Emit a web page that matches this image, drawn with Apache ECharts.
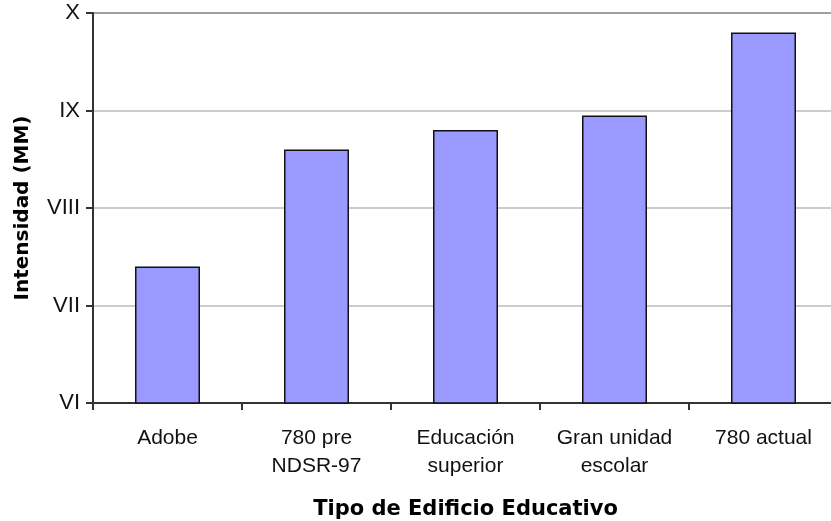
<!DOCTYPE html>
<html>
<head>
<meta charset="utf-8">
<script src="https://cdn.jsdelivr.net/npm/echarts@6/dist/echarts.min.js"></script>
<style>
  html, body { margin: 0; padding: 0; background: #fff; }
  #chart { width: 831px; height: 521px; }
</style>
</head>
<body>
<div id="chart"></div>
<script>
// Building types and their estimated Mercalli intensity
const categories = ['Adobe', '780 pre\nNDSR-97', 'Educación\nsuperior', 'Gran unidad\nescolar', '780 actual'];
const intensity = [7.4, 8.6, 8.8, 8.95, 9.8];
// Roman numeral tick labels for intensities 6..10
const tickValues = [6, 7, 8, 9, 10];
const tickLabels = ['VI', 'VII', 'VIII', 'IX', 'X'];

const chart = echarts.init(document.getElementById('chart'), null, { renderer: 'canvas' });

chart.setOption({
  animation: false,
  backgroundColor: '#ffffff',
  grid: { left: 93, top: 13, width: 745, height: 390, containLabel: false, outerBoundsMode: 'none' },
  xAxis: {
    type: 'category',
    data: categories,
    boundaryGap: true,
    name: 'Tipo de Edificio Educativo',
    nameLocation: 'middle',
    nameGap: 96,
    nameTextStyle: { fontFamily: 'DejaVu Sans, Verdana, sans-serif', fontWeight: 'bold', fontSize: 21, color: '#000' },
    axisLine: { lineStyle: { color: '#333', width: 2 } },
    axisTick: { show: true, length: 7, alignWithLabel: false, lineStyle: { color: '#333', width: 2 } },
    axisLabel: {
      interval: 0,
      margin: 21,
      fontFamily: 'Liberation Sans, Arial, sans-serif',
      fontSize: 21,
      lineHeight: 28,
      color: '#111'
    }
  },
  yAxis: {
    type: 'value',
    min: 6,
    max: 10,
    interval: 1,
    name: 'Intensidad (MM)',
    nameLocation: 'middle',
    nameGap: 60,
    nameRotate: 90,
    nameTextStyle: { fontFamily: 'DejaVu Sans, Verdana, sans-serif', fontWeight: 'bold', fontSize: 20, color: '#000' },
    axisLine: { show: true, lineStyle: { color: '#333', width: 2 } },
    axisTick: { show: true, length: 7, lineStyle: { color: '#333', width: 2 } },
    axisLabel: {
      margin: 13,
      fontFamily: 'Liberation Sans, Arial, sans-serif',
      fontSize: 22,
      color: '#111',
      formatter: function (v) {
        const i = tickValues.indexOf(Math.round(v));
        return i >= 0 ? tickLabels[i] : '';
      }
    },
    splitLine: {
      show: true,
      lineStyle: { color: ['#cccccc', '#cccccc', '#cccccc', '#cccccc', '#a0a0a0'], width: 2 }
    }
  },
  series: [{
    type: 'bar',
    data: intensity,
    barWidth: 65,
    itemStyle: { color: '#9999ff', borderColor: '#111', borderWidth: 1.5 }
  }]
});
</script>
</body>
</html>
